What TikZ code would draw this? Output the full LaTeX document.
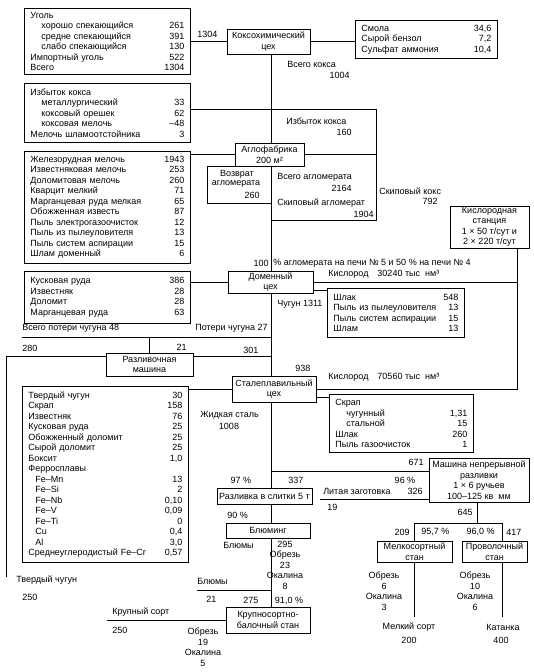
\documentclass[tikz,border=0pt]{standalone}
\usepackage{fontspec}
\setmainfont{Liberation Sans}
\begin{document}
\begin{tikzpicture}[x=1pt,y=-1pt,font=\fontsize{9}{10.5}\selectfont,line width=0.6pt,
  unit/.style={draw,line width=0.9pt,align=center,inner sep=1pt},
  list/.style={draw,line width=0.9pt,anchor=north west,align=left,inner xsep=6pt,inner ysep=2pt},
  lbl/.style={inner sep=0pt}]
  \useasboundingbox (0,0) rectangle (534,672);
  \coordinate (trunk) at (271,0);
  % Coke plant
  \node[list,text width=154pt,minimum height=66pt] (coal) at (24,8) {Уголь\\
    \hspace*{11pt}хорошо спекающийся\hfill 261\\
    \hspace*{11pt}средне спекающийся\hfill 391\\
    \hspace*{11pt}слабо спекающийся\hfill 130\\
    Импортный уголь\hfill 522\\
    Всего\hfill 1304};
  \node[unit,minimum width=83pt,minimum height=25pt] (coke) at (268.5,41.5) {Коксохимический\\цех};
  \node[list,text width=130pt,minimum height=38pt] (tar) at (355,20) {Смола\hfill 34,6\\
    Сырой бензол\hfill 7,2\\
    Сульфат аммония\hfill 10,4};
  \draw (coal.east) -- (coal.east -| coke.west);
  \draw (coke.east) -- (coke.east -| tar.west);
  \node[lbl,anchor=west] (nCoal) at (197,34) {1304};
  \node[lbl,anchor=west] (tCoke) at (287,64) {Всего кокса};
  \node[lbl,anchor=east] (nCoke) at (350,75) {1004};
  % Excess coke
  \node[list,text width=154pt,minimum height=59pt] (excess) at (24,83) {Избыток кокса\\
    \hspace*{11pt}металлургический\hfill 33\\
    \hspace*{11pt}коксовый орешек\hfill 62\\
    \hspace*{11pt}коксовая мелочь\hfill –48\\
    Мелочь шламоотстойника\hfill 3};
  \coordinate (exR) at (376,109);
  \coordinate (skipR) at (376,220);
  \draw (excess.east |- exR) -- (exR) -- (skipR) -- (skipR -| trunk);
  \node[lbl,anchor=west] (tExcess) at (286,121) {Избыток кокса};
  \node[lbl,anchor=east] (nExcess) at (352,132) {160};
  % Sinter plant
  \node[unit,minimum width=69pt,minimum height=23pt] (sinter) at (269.5,154.5) {Аглофабрика\\200 м²};
  \node[list,text width=154pt,minimum height=112pt] (fines) at (24,151) {Железорудная мелочь\hfill 1943\\
    Известняковая мелочь\hfill 253\\
    Доломитовая мелочь\hfill 260\\
    Кварцит мелкий\hfill 71\\
    Марганцевая руда мелкая\hfill 65\\
    Обожженная известь\hfill 87\\
    Пыль электрогазоочисток\hfill 12\\
    Пыль из пылеуловителя\hfill 13\\
    Пыль систем аспирации\hfill 15\\
    Шлам доменный\hfill 6};
  \draw (fines.east |- sinter.west) -- (sinter.west);
  \draw (sinter.east) -- (sinter.east -| exR);
  \draw (coke.south -| trunk) -- (sinter.north -| trunk);
  \coordinate (retL) at (207,203);
  \draw (retL -| trunk) -- (retL) -- (retL |- sinter.south) -- (sinter.south west);
  \node[lbl] (tRet1) at (237,174) {Возврат};
  \node[lbl] (tRet2) at (236,184.5) {агломерата};
  \node[lbl,anchor=east] (nRet) at (260,195) {260};
  \node[lbl,anchor=west] (tSinter) at (277,177) {Всего агломерата};
  \node[lbl,anchor=east] (nSinter) at (352,188) {2164};
  \node[lbl,anchor=west] (tSkipS) at (277,203) {Скиповый агломерат};
  \node[lbl,anchor=east] (nSkipS) at (374,214) {1904};
  \node[lbl,anchor=west] (tSkipC) at (379,191) {Скиповый кокс};
  \node[lbl,anchor=east] (nSkipC) at (438,201) {792};
  % Blast furnace
  \node[unit,minimum width=85pt,minimum height=22pt] (bf) at (270.5,282) {Доменный\\цех};
  \draw (sinter.south -| trunk) -- (bf.north -| trunk);
  \node[lbl,anchor=east] (tShare1) at (269,263) {100};
  \node[lbl,anchor=west] (tShare2) at (273,263) {\% агломерата на печи № 5 и 50 \% на печи № 4};
  \node[list,text width=154pt,minimum height=52pt] (lump) at (24,271) {Кусковая руда\hfill 386\\
    Известняк\hfill 28\\
    Доломит\hfill 28\\
    Марганцевая руда\hfill 63};
  \draw (lump.east |- bf.west) -- (bf.west);
  \node[unit,minimum width=79pt,minimum height=42pt] (oxy) at (489.5,227) {Кислородная\\станция\\1 × 50 т/сут и\\2 × 220 т/сут};
  \node[list,text width=125pt,minimum height=49pt] (slag) at (327,288) {Шлак\hfill 548\\
    Пыль из пылеуловителя\hfill 13\\
    Пыль систем аспирации\hfill 15\\
    Шлам\hfill 13};
  \coordinate (slagY) at (0,290);
  \draw (bf.east |- slagY) -- (slag.west |- slagY);
  \node[lbl,anchor=west] (tOx1) at (328,274) {Кислород\quad 30240 тыс\ \ нм³};
  \node[lbl,anchor=west] (tIron) at (277,304) {Чугун 1311};
  % Pig casting machine
  \coordinate (lossL) at (22,337);
  \draw (lossL) -- (lossL -| trunk);
  \node[unit,minimum width=87pt,minimum height=23pt] (pcm) at (149.5,364.5) {Разливочная\\машина};
  \draw (pcm.north) -- (pcm.north |- lossL);
  \coordinate (pigT) at (6,356);
  \coordinate (pigB) at (6,577);
  \draw (pcm.west |- pigT) -- (pigT) -- (pigB);
  \draw (pcm.east |- pigT) -- (pigT -| trunk);
  \node[lbl,anchor=west] (tLoss) at (22,328) {Всего потери чугуна 48};
  \node[lbl,anchor=east] (tLoss2) at (268,328) {Потери чугуна 27};
  \node[lbl,anchor=west] (n280) at (22,348) {280};
  \node[lbl,anchor=east] (n21a) at (187,347) {21};
  \node[lbl,anchor=west] (n301) at (243,350) {301};
  \node[lbl,anchor=west] (n938) at (295,368) {938};
  \node[lbl,anchor=west] (tPig) at (16,580) {Твердый чугун};
  \node[lbl,anchor=west] (n250a) at (22,597) {250};
  % Steel shop
  \node[unit,minimum width=84pt,minimum height=26pt] (bof) at (274,389) {Сталеплавильный\\цех};
  \draw (bf.south -| trunk) -- (bof.north -| trunk);
  \coordinate (oxR) at (517,389);
  \draw (oxy.south -| oxR) -- (oxR) -- (bof.east);
  \draw (bf.east) -- (bf.east -| oxR);
  \node[list,text width=154pt,minimum height=176pt] (charge) at (22,386) {Твердый чугун\hfill 30\\
    Скрап\hfill 158\\
    Известняк\hfill 76\\
    Кусковая руда\hfill 25\\
    Обожженный доломит\hfill 25\\
    Сырой доломит\hfill 25\\
    Боксит\hfill 1,0\\
    Ферросплавы\\
    \hspace*{7pt}Fe–Mn\hfill 13\\
    \hspace*{7pt}Fe–Si\hfill 2\\
    \hspace*{7pt}Fe–Nb\hfill 0,10\\
    \hspace*{7pt}Fe–V\hfill 0,09\\
    \hspace*{7pt}Fe–Ti\hfill 0\\
    \hspace*{7pt}Cu\hfill 0,4\\
    \hspace*{7pt}Al\hfill 3,0\\
    Среднеуглеродистый Fe–Cr\hfill 0,57};
  \draw (charge.east |- bof.west) -- (bof.west);
  \node[list,text width=132pt,minimum height=58pt] (scrap) at (329,394) {Скрап\\
    \hspace*{11pt}чугунный\hfill 1,31\\
    \hspace*{11pt}стальной\hfill 15\\
    Шлак\hfill 260\\
    Пыль газоочисток\hfill 1};
  \coordinate (scrapY) at (0,397);
  \draw (bof.east |- scrapY) -- (scrap.west |- scrapY);
  \node[lbl,anchor=west] (tOx2) at (328,377) {Кислород\quad 70560 тыс\ \ нм³};
  \node[lbl,anchor=west] (tSteel) at (200,415) {Жидкая сталь};
  \node[lbl] (nSteel) at (229,426) {1008};
  % Casting
  \node[unit,minimum width=100pt,minimum height=44pt] (ccm) at (479,480) {Машина непрерывной\\разливки\\1 × 6 ручьев\\100–125 кв\ \ мм};
  \coordinate (castY) at (0,471);
  \draw (castY -| trunk) -- (castY -| ccm.west);
  \coordinate (billetL) at (320,499);
  \draw (ccm.west |- billetL) -- (billetL);
  \node[unit,minimum width=95pt,minimum height=16pt] (ingot) at (264.5,496) {Разливка в слитки 5 т};
  \draw (bof.south -| trunk) -- (ingot.north -| trunk);
  \node[lbl,anchor=east] (n671) at (424,462) {671};
  \node[lbl] (p97) at (241,480) {97 \%};
  \node[lbl,anchor=west] (n337) at (288,480) {337};
  \node[lbl] (p96) at (405,480) {96 \%};
  \node[lbl,anchor=west] (tBillet) at (323,491) {Литая заготовка};
  \node[lbl,anchor=east] (n326) at (423,491) {326};
  \node[lbl,anchor=west] (n19a) at (327,507) {19};
  \node[lbl,anchor=east] (n645) at (473,512) {645};
  % Rolling
  \node[unit,minimum width=84pt,minimum height=15pt] (bloom) at (268,530.5) {Блюминг};
  \draw (ingot.south -| trunk) -- (bloom.north -| trunk);
  \node[unit,minimum width=84pt,minimum height=26pt] (heavy) at (268,620) {Крупносортно-\\балочный стан};
  \draw (bloom.south -| trunk) -- (heavy.north -| trunk);
  \coordinate (bloomL) at (197,590);
  \draw (bloomL) -- (bloomL -| trunk);
  \coordinate (heavyL) at (107,620);
  \draw (heavy.west) -- (heavyL);
  \node[lbl,anchor=west] (p90) at (227,515) {90 \%};
  \node[lbl,anchor=west] (tBlooms) at (223,545) {Блюмы};
  \node[lbl,align=center] (tBloomOut) at (285,565) {295\\Обрезь\\23\\Окалина\\8};
  \node[lbl,anchor=west] (tBlooms2) at (197,581) {Блюмы};
  \node[lbl,anchor=west] (n21b) at (206,599) {21};
  \node[lbl,anchor=west] (n275) at (243,600) {275};
  \node[lbl] (p91) at (289,601) {91,0 \%};
  \node[lbl,anchor=west] (tHeavy) at (112,612) {Крупный сорт};
  \node[lbl,anchor=west] (n250b) at (112,630) {250};
  \node[lbl,align=center] (tHeavyOut) at (203,647) {Обрезь\\19\\Окалина\\5};
  \node[unit,minimum width=75pt,minimum height=21pt] (small) at (414.5,551.5) {Мелкосортный\\стан};
  \node[unit,minimum width=65pt,minimum height=21pt] (wire) at (494.5,551.5) {Проволочный\\стан};
  \coordinate (ccmX) at (477,523);
  \coordinate (splitL) at (414,523);
  \coordinate (splitR) at (502,523);
  \coordinate (smallE) at (414,617);
  \coordinate (wireE) at (502,617);
  \draw (ccm.south -| ccmX) -- (ccmX);
  \draw (splitL) -- (splitR);
  \draw (splitL) -- (splitL |- small.north);
  \draw (splitR) -- (splitR |- wire.north);
  \draw (small.south -| smallE) -- (smallE);
  \draw (wire.south -| wireE) -- (wireE);
  \node[lbl,anchor=east] (n209) at (410,532) {209};
  \node[lbl,anchor=west] (p957) at (421,532) {95,7 \%};
  \node[lbl,anchor=east] (p960) at (495,532) {96,0 \%};
  \node[lbl,anchor=west] (n417) at (506,532) {417};
  \node[lbl,align=center] (tSmallOut) at (384,591) {Обрезь\\6\\Окалина\\3};
  \node[lbl,align=center] (tWireOut) at (475,591) {Обрезь\\10\\Окалина\\6};
  \node[lbl] (tSmallProd) at (409,627) {Мелкий сорт};
  \node[lbl] (n200) at (409,640) {200};
  \node[lbl] (tWireProd) at (503,627) {Катанка};
  \node[lbl] (n400) at (501,640) {400};
\end{tikzpicture}
\end{document}
